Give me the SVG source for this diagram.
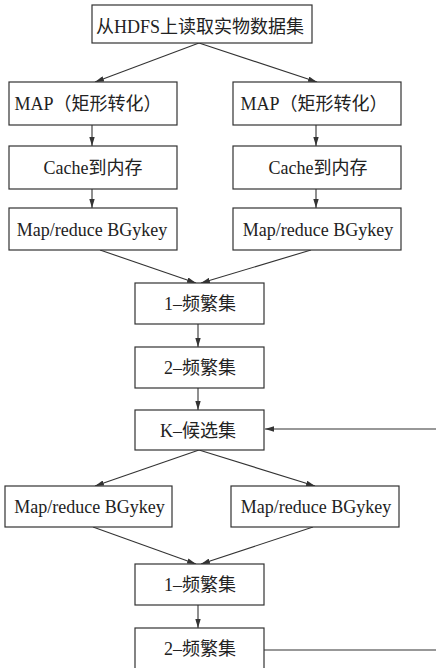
<svg xmlns="http://www.w3.org/2000/svg" width="436" height="668" viewBox="0 0 436 668">
<style>
.box{fill:#fff;stroke:#333;stroke-width:1.2}
.t{font-family:"Liberation Serif","Noto Sans CJK SC",serif;font-size:18px;fill:#222;text-anchor:middle}
.e{fill:none;stroke:#333;stroke-width:1.1}
</style>
<defs>
<marker id="ah" viewBox="0 0 10 6" refX="10" refY="3" markerWidth="9" markerHeight="5.4" markerUnits="userSpaceOnUse" orient="auto">
<path d="M0,0 L10,3 L0,6 z" fill="#333"/>
</marker>
</defs>
<g id="connectors">
<line class="e" x1="199" y1="43" x2="95" y2="82" marker-end="url(#ah)"/>
<line class="e" x1="199" y1="43" x2="317" y2="82" marker-end="url(#ah)"/>
<line class="e" x1="92" y1="125" x2="92" y2="146" marker-end="url(#ah)"/>
<line class="e" x1="316" y1="125" x2="316" y2="146" marker-end="url(#ah)"/>
<line class="e" x1="92" y1="189" x2="92" y2="208" marker-end="url(#ah)"/>
<line class="e" x1="316" y1="189" x2="316" y2="208" marker-end="url(#ah)"/>
<line class="e" x1="100" y1="250" x2="196" y2="283" marker-end="url(#ah)"/>
<line class="e" x1="311" y1="250" x2="201" y2="283" marker-end="url(#ah)"/>
<line class="e" x1="198" y1="324" x2="198" y2="347" marker-end="url(#ah)"/>
<line class="e" x1="198" y1="388" x2="198" y2="410" marker-end="url(#ah)"/>
<line class="e" x1="436" y1="429" x2="265" y2="429" marker-end="url(#ah)"/>
<line class="e" x1="199" y1="450" x2="95" y2="486" marker-end="url(#ah)"/>
<line class="e" x1="199" y1="450" x2="315" y2="486" marker-end="url(#ah)"/>
<line class="e" x1="93" y1="527" x2="196" y2="564" marker-end="url(#ah)"/>
<line class="e" x1="313" y1="527" x2="201" y2="564" marker-end="url(#ah)"/>
<line class="e" x1="198" y1="605" x2="198" y2="628" marker-end="url(#ah)"/>
<line class="e" x1="264" y1="650" x2="436" y2="650"/>
</g>
<g id="n_hdfs"><rect class="box" x="92" y="5" width="220" height="38"/><text class="t" x="200" y="33">从HDFS上读取实物数据集</text></g>
<g id="n_map_l"><rect class="box" x="9" y="82" width="168" height="43"/><text class="t" x="88" y="110">MAP（矩形转化）</text></g>
<g id="n_map_r"><rect class="box" x="233" y="82" width="168" height="43"/><text class="t" x="314" y="110">MAP（矩形转化）</text></g>
<g id="n_cache_l"><rect class="box" x="9" y="146" width="168" height="43"/><text class="t" x="93" y="174">Cache到内存</text></g>
<g id="n_cache_r"><rect class="box" x="233" y="146" width="168" height="43"/><text class="t" x="318" y="174">Cache到内存</text></g>
<g id="n_mr_l"><rect class="box" x="9" y="208" width="168" height="42"/><text class="t" x="92" y="235.5">Map/reduce BGykey</text></g>
<g id="n_mr_r"><rect class="box" x="233" y="208" width="168" height="42"/><text class="t" x="318" y="235.5">Map/reduce BGykey</text></g>
<g id="n_f1"><rect class="box" x="135" y="283" width="129" height="41"/><text class="t" x="200" y="310">1–频繁集</text></g>
<g id="n_f2"><rect class="box" x="135" y="347" width="129" height="41"/><text class="t" x="200" y="374">2–频繁集</text></g>
<g id="n_k"><rect class="box" x="135" y="410" width="129" height="40"/><text class="t" x="198" y="436.5">K–候选集</text></g>
<g id="n_mr2_l"><rect class="box" x="5" y="486" width="167" height="41"/><text class="t" x="89.5" y="513">Map/reduce BGykey</text></g>
<g id="n_mr2_r"><rect class="box" x="231" y="486" width="168" height="41"/><text class="t" x="316" y="513">Map/reduce BGykey</text></g>
<g id="n_f1b"><rect class="box" x="135" y="564" width="129" height="41"/><text class="t" x="200" y="591">1–频繁集</text></g>
<g id="n_f2b"><rect class="box" x="135" y="628" width="129" height="45"/><text class="t" x="200" y="655">2–频繁集</text></g>
</svg>
